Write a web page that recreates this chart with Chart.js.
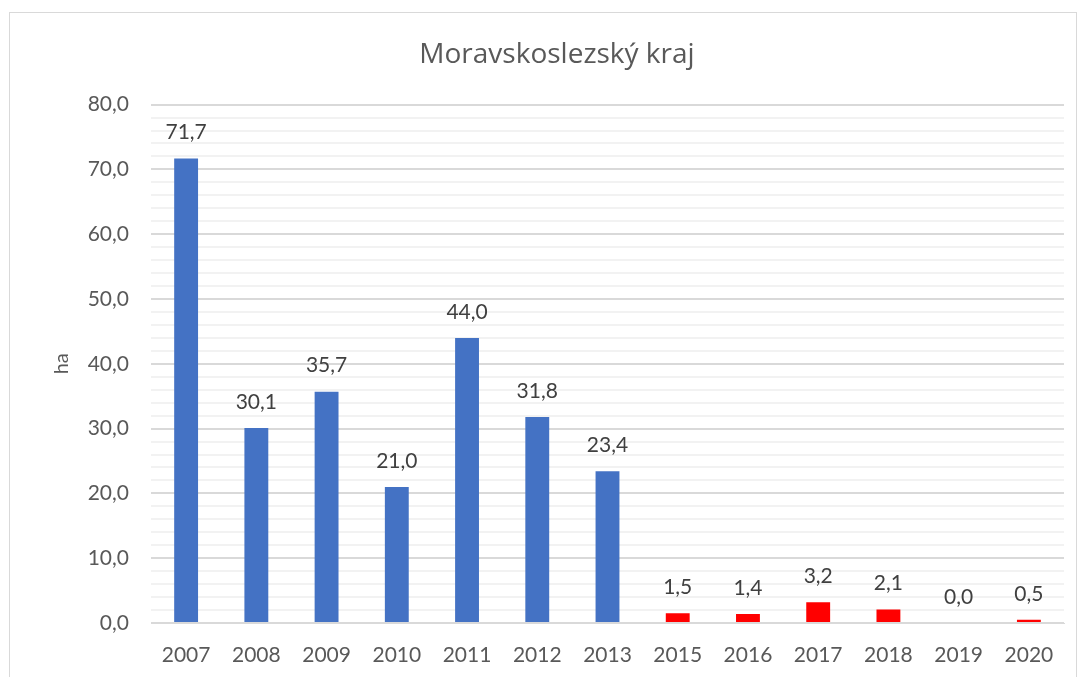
<!DOCTYPE html>
<html>
<head>
<meta charset="utf-8">
<script src="https://cdn.jsdelivr.net/npm/chart.js@4.4.1/dist/chart.umd.min.js"></script>
<style>
  html, body { margin: 0; padding: 0; background: #fff; }
  #ram { position: absolute; left: 9px; top: 12px; width: 1068px; height: 700px; border: 1px solid #d9d9d9; box-sizing: border-box; }
  #obal { position: absolute; left: 0; top: 0; width: 1080px; height: 677px; }
</style>
</head>
<body>
<div id="ram"></div>
<div id="obal"><canvas id="graf" width="1080" height="677"></canvas></div>
<script>
// roky a hodnoty (ha)
const roky = ['2007', '2008', '2009', '2010', '2011', '2012', '2013', '2015', '2016', '2017', '2018', '2019', '2020'];
const hodnoty = [71.7, 30.1, 35.7, 21.0, 44.0, 31.8, 23.4, 1.5, 1.4, 3.2, 2.1, 0.0, 0.5];
const barvy = ['#4472c4', '#4472c4', '#4472c4', '#4472c4', '#4472c4', '#4472c4', '#4472c4',
  '#ff0000', '#ff0000', '#ff0000', '#ff0000', '#ff0000', '#ff0000'];

const cislo = v => v.toFixed(1).replace('.', ',');

// popisky nad sloupci (datalabels plugin neni k dispozici)
const popisky = {
  id: 'popisky',
  afterDatasetsDraw(chart) {
    const ctx = chart.ctx;
    const meta = chart.getDatasetMeta(0);
    ctx.save();
    ctx.font = '21px Lato';
    ctx.fillStyle = '#404040';
    ctx.textAlign = 'center';
    ctx.textBaseline = 'middle';
    meta.data.forEach((bar, i) => {
      const p = bar.getProps(['x', 'y'], true);
      ctx.fillText(cislo(hodnoty[i]), p.x, p.y - 26);
    });
    ctx.restore();
  }
};

new Chart(document.getElementById('graf').getContext('2d'), {
  type: 'bar',
  data: {
    labels: roky,
    datasets: [{
      data: hodnoty,
      backgroundColor: barvy,
      barPercentage: 0.34,
      categoryPercentage: 1
    }]
  },
  options: {
    responsive: false,
    animation: false,
    layout: { padding: { left: 50, right: 16, top: 0, bottom: 0 } },
    plugins: {
      legend: { display: false },
      tooltip: { enabled: false },
      title: {
        display: true,
        text: 'Moravskoslezský kraj',
        color: '#595959',
        font: { family: 'Open Sans', size: 28, weight: 'normal', lineHeight: 1.2 },
        padding: { top: 38, bottom: 33 }
      }
    },
    scales: {
      x: {
        grid: { display: false, drawTicks: false },
        border: { color: '#d9d9d9', width: 1 },
        afterFit(scale) { scale.height = 54; },
        ticks: { color: '#595959', font: { family: 'Lato', size: 21 }, padding: 20, maxRotation: 0, autoSkip: false }
      },
      y: {
        min: 0,
        max: 80,
        afterFit(scale) { scale.width = 101; },
        ticks: {
          stepSize: 2,
          autoSkip: false,
          color: '#595959',
          font: { family: 'Lato', size: 21 },
          padding: 22,
          callback: v => (v % 10 === 0 ? cislo(v) : '')
        },
        grid: {
          drawTicks: false,
          color: c => (c.tick.value % 10 === 0 ? '#d9d9d9' : '#f2f2f2'),
          lineWidth: 2
        },
        border: { display: false },
        title: {
          display: true,
          text: 'ha',
          color: '#595959',
          font: { family: 'Lato', size: 20 },
          padding: 0
        }
      }
    }
  },
  plugins: [popisky]
});
</script>
</body>
</html>
